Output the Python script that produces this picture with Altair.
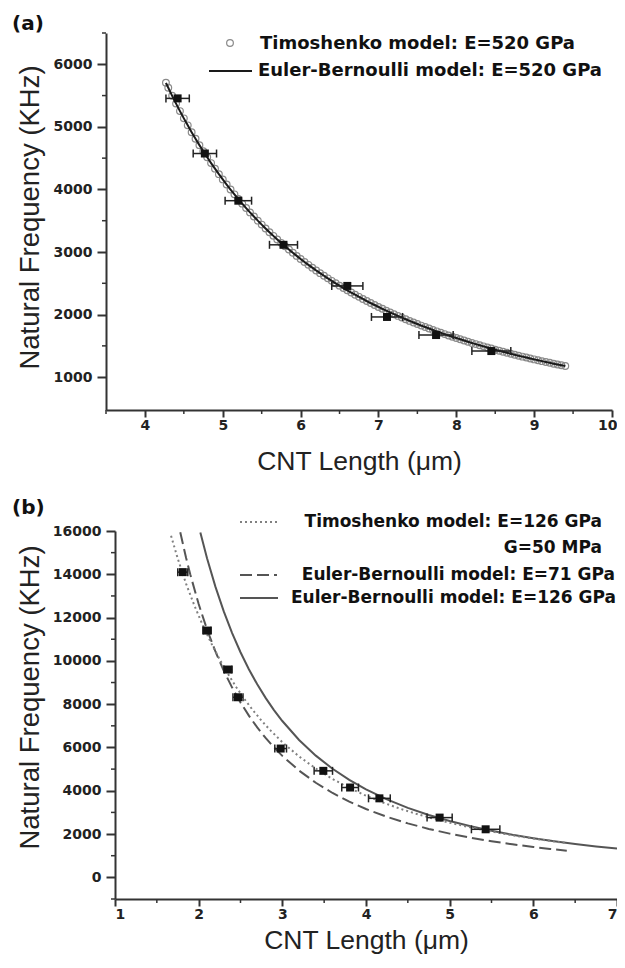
import altair as alt
import pandas as pd

# ---------------- Panel (a) ----------------
a_len = [4.42, 4.77, 5.20, 5.78, 6.60, 7.11, 7.74, 8.45]
a_freq = [5455, 4574, 3820, 3115, 2458, 1962, 1673, 1417]
a_err = [0.15, 0.15, 0.17, 0.18, 0.20, 0.20, 0.22, 0.25]

a_model_len = [4.27, 4.30, 4.35, 4.40, 4.45, 4.50, 4.55, 4.60, 4.65, 4.70, 4.75, 4.80, 4.85,
               4.90, 4.95, 5.00, 5.05, 5.10, 5.15, 5.20, 5.25, 5.30, 5.35, 5.40, 5.45, 5.50,
               5.55, 5.60, 5.65, 5.70, 5.75, 5.80, 5.85, 5.90, 5.95, 6.00, 6.05, 6.10, 6.15,
               6.20, 6.25, 6.30, 6.35, 6.40, 6.45, 6.50, 6.55, 6.60, 6.65, 6.70, 6.75, 6.80,
               6.85, 6.90, 6.95, 7.00, 7.05, 7.10, 7.15, 7.20, 7.25, 7.30, 7.35, 7.40, 7.45,
               7.50, 7.55, 7.60, 7.65, 7.70, 7.75, 7.80, 7.85, 7.90, 7.95, 8.00, 8.05, 8.10,
               8.15, 8.20, 8.25, 8.30, 8.35, 8.40, 8.45, 8.50, 8.55, 8.60, 8.65, 8.70, 8.75,
               8.80, 8.85, 8.90, 8.95, 9.00, 9.05, 9.10, 9.15, 9.20, 9.25, 9.30, 9.35, 9.40]
a_timo_freq = [5704, 5625, 5496, 5372, 5252, 5136, 5024, 4915, 4810, 4708,
               4609, 4514, 4421, 4332, 4244, 4160, 4078, 3998, 3921, 3846,
               3773, 3702, 3633, 3567, 3501, 3438, 3376, 3316, 3258, 3201,
               3146, 3092, 3039, 2988, 2938, 2889, 2841, 2795, 2750, 2705,
               2662, 2620, 2579, 2539, 2500, 2462, 2424, 2388, 2352, 2317,
               2283, 2249, 2216, 2184, 2153, 2122, 2092, 2063, 2034, 2006,
               1979, 1952, 1925, 1899, 1874, 1849, 1824, 1801, 1777, 1754,
               1732, 1709, 1688, 1666, 1646, 1625, 1605, 1585, 1566, 1547,
               1528, 1510, 1492, 1474, 1457, 1439, 1423, 1406, 1390, 1374,
               1358, 1343, 1328, 1313, 1298, 1284, 1270, 1256, 1242, 1229,
               1215, 1202, 1190, 1177]
a_eb_freq = list(a_timo_freq)

a_xticks = [4, 5, 6, 7, 8, 9, 10]
a_xminor = [3.5, 4.5, 5.5, 6.5, 7.5, 8.5, 9.5]
a_yticks = [1000, 2000, 3000, 4000, 5000, 6000]
a_yminor = [1500, 2500, 3500, 4500, 5500, 6500]
a_legend = ["Timoshenko model: E=520 GPa", "Euler-Bernoulli model: E=520 GPa"]

# ---------------- Panel (b) ----------------
b_len = [1.81, 2.10, 2.35, 2.47, 2.98, 3.49, 3.81, 4.16, 4.88, 5.43]
b_freq = [14100, 11400, 9600, 8320, 5950, 4920, 4150, 3650, 2760, 2220]
b_err = [0.06, 0.05, 0.05, 0.06, 0.07, 0.11, 0.10, 0.13, 0.15, 0.17]

b_eb126_len = [2.02, 2.1, 2.2, 2.3, 2.4, 2.5, 2.6, 2.7, 2.8, 2.9, 3.0, 3.2, 3.4, 3.6,
               3.8, 4.0, 4.25, 4.5, 4.75, 5.0, 5.25, 5.5, 5.75, 6.0, 6.25, 6.5, 6.75, 7.0]
b_eb126_freq = [15930, 14739, 13430, 12287, 11285, 10400, 9615, 8916, 8291, 7729, 7222,
                6348, 5623, 5015, 4501, 4063, 3599, 3210, 2881, 2600, 2358, 2149, 1966,
                1806, 1664, 1538, 1427, 1327]

b_eb71_len = [1.78, 1.85, 1.9, 2.0, 2.1, 2.2, 2.3, 2.4, 2.5, 2.6, 2.7, 2.8, 2.9, 3.0,
              3.2, 3.4, 3.6, 3.8, 4.0, 4.25, 4.5, 4.75, 5.0, 5.25, 5.5, 5.75, 6.0, 6.2, 6.4]
b_eb71_freq = [15938, 14755, 13989, 12625, 11451, 10434, 9546, 8767, 8080, 7470, 6927,
               6441, 6005, 5611, 4932, 4369, 3897, 3497, 3156, 2796, 2494, 2238, 2020,
               1832, 1669, 1527, 1403, 1314, 1233]

b_timo_len = [1.67, 1.75, 1.85, 1.95, 2.05, 2.15, 2.25, 2.35, 2.45, 2.55, 2.65, 2.75,
              2.85, 3.0, 3.2, 3.4, 3.6, 3.8, 4.0, 4.2, 4.4, 4.6, 4.8, 5.0, 5.2, 5.4,
              5.6, 5.8, 6.0, 6.2, 6.4]
b_timo_freq = [15777, 14727, 13557, 12544, 11636, 10817, 10074, 9398, 8780, 8220, 7711,
               7246, 6821, 6244, 5586, 5026, 4545, 4131, 3772, 3458, 3182, 2937, 2719,
               2524, 2348, 2190, 2046, 1914, 1794, 1684, 1583]

b_xticks = [1, 2, 3, 4, 5, 6, 7]
b_xminor = [1.5, 2.5, 3.5, 4.5, 5.5, 6.5]
b_yticks = [0, 2000, 4000, 6000, 8000, 10000, 12000, 14000, 16000]
b_yminor = [-1000, 1000, 3000, 5000, 7000, 9000, 11000, 13000, 15000]
b_legend = ["Timoshenko model: E=126 GPa", "G=50 MPa",
            "Euler-Bernoulli model: E=71 GPa", "Euler-Bernoulli model: E=126 GPa"]

x_title = "CNT Length (\u03bcm)"
y_title = "Natural Frequency (KHz)"

BOLD = "DejaVu Sans"
REG = "Liberation Sans"
AX = "#333333"
one = pd.DataFrame({"k": [0]})

# One drawing area; each panel gets its own pixel band through its scale ranges.
W, H = 502, 866
SH = 9                       # panel (a) axis sits 9 px left of panel (b)
A_TOP, A_BOT = 0, 377        # panel (a) vertical band
B_TOP, B_BOT = 498, 866      # panel (b) vertical band


def major_x(values, tpad, offset, flush_off):
    return alt.Axis(values=values, orient="bottom", offset=offset, title=x_title,
                    grid=False, format="d",
                    domainColor=AX, domainWidth=2, tickColor=AX, tickWidth=2, tickSize=7,
                    labelFont=BOLD, labelFontWeight="bold", labelFontSize=14,
                    labelColor="#222222", labelPadding=1, labelFlush=True,
                    labelFlushOffset=flush_off, labelOverlap=False,
                    titleFont=REG, titleFontSize=26.5, titleFontWeight="normal",
                    titleColor="#222222", titlePadding=tpad)


def major_y(values, tx, ty, off):
    return alt.Axis(values=values, orient="left", offset=off, title=y_title, grid=False,
                    format="d",
                    domainColor=AX, domainWidth=2, tickColor=AX, tickWidth=2, tickSize=9,
                    labelFont=BOLD, labelFontWeight="bold", labelFontSize=14,
                    labelColor="#222222", labelPadding=5, labelFlush=False,
                    labelOverlap=False, titleFont=REG, titleFontSize=27.5,
                    titleFontWeight="normal", titleColor="#222222",
                    titleX=tx, titleY=ty, titleAngle=270, titleBaseline="bottom",
                    titleAlign="center")


def minor_ticks(xvals, yvals, xs, ys, ybase, x0):
    mx = alt.Chart(pd.DataFrame({"v": xvals})).mark_rule(color=AX, strokeWidth=1.5).encode(
        x=alt.X("v:Q", scale=xs, axis=None), y=alt.value(ybase), y2=alt.value(ybase + 4))
    my = alt.Chart(pd.DataFrame({"v": yvals})).mark_rule(color=AX, strokeWidth=1.5).encode(
        y=alt.Y("v:Q", scale=ys, axis=None), x=alt.value(x0), x2=alt.value(x0 - 4))
    return [mx, my]


def text_layer(label, x, y, align="right", size=18, baseline="middle"):
    return alt.Chart(one).mark_text(text=label, align=align, baseline=baseline,
                                    font=BOLD, fontWeight="bold", fontSize=size,
                                    color="#111111").encode(x=alt.value(x), y=alt.value(y))


def rule_layer(x1, x2, y, color, dash=None):
    kw = dict(color=color, strokeWidth=2)
    if dash:
        kw["strokeDash"] = dash
    return alt.Chart(one).mark_rule(**kw).encode(
        x=alt.value(x1), x2=alt.value(x2), y=alt.value(y))


def data_layers(df, xs, ys):
    base = alt.Chart(df).transform_calculate(
        lo="datum.len - datum.err", hi="datum.len + datum.err")
    bars = base.mark_rule(color="#222222", strokeWidth=1.5).encode(
        x=alt.X("lo:Q", scale=xs, axis=None), x2="hi:Q",
        y=alt.Y("freq:Q", scale=ys, axis=None))
    caps = [base.mark_tick(orient="vertical", size=8, thickness=1.5, color="#222222",
                           opacity=1).encode(
        x=alt.X(f + ":Q", scale=xs, axis=None), y=alt.Y("freq:Q", scale=ys, axis=None))
        for f in ("lo", "hi")]
    sq = base.mark_square(size=64, color="#111111", opacity=1).encode(
        x=alt.X("len:Q", scale=xs, axis=None), y=alt.Y("freq:Q", scale=ys, axis=None))
    return [bars] + caps + [sq]


# ---- panel (a) ----
xa = alt.Scale(domain=[3.5, 10], nice=False, zero=False, range=[-SH, W - 5])
ya = alt.Scale(domain=[475, 6500], nice=False, zero=False, range=[A_BOT, A_TOP])
df_a = pd.DataFrame({"len": a_len, "freq": a_freq, "err": a_err})
df_am = pd.DataFrame({"len": a_model_len, "timo": a_timo_freq, "eb": a_eb_freq})

a_circles = alt.Chart(df_am).mark_point(shape="circle", filled=False, size=45,
                                        stroke="#8a8a8a", strokeWidth=1.2, opacity=1).encode(
    x=alt.X("len:Q", scale=xa, axis=major_x(a_xticks, 16, A_BOT - H, 5)),
    y=alt.Y("timo:Q", scale=ya, axis=major_y(a_yticks, -61.5, 184, SH)))
a_line = alt.Chart(df_am).mark_line(color="#1a1a1a", strokeWidth=2).encode(
    x=alt.X("len:Q", scale=xa, axis=None), y=alt.Y("eb:Q", scale=ya, axis=None))

a_leg = [
    alt.Chart(one).mark_point(shape="circle", filled=False, size=45, stroke="#8a8a8a",
                              strokeWidth=1.2, opacity=1).encode(
        x=alt.value(115), y=alt.value(10)),
    text_layer(a_legend[0], 460, 11),
    rule_layer(94, 137, 38, "#1a1a1a"),
    text_layer(a_legend[1], 487, 38),
    text_layer("(a)", -103, -19, align="left", size=20, baseline="top"),
]

# ---- panel (b) ----
xb = alt.Scale(domain=[1, 7], nice=False, zero=False, range=[0, W])
yb = alt.Scale(domain=[-1000, 16000], nice=False, zero=False, range=[B_BOT, B_TOP])
df_b = pd.DataFrame({"len": b_len, "freq": b_freq, "err": b_err})
df_b126 = pd.DataFrame({"len": b_eb126_len, "freq": b_eb126_freq})
df_b71 = pd.DataFrame({"len": b_eb71_len, "freq": b_eb71_freq})
df_bt = pd.DataFrame({"len": b_timo_len, "freq": b_timo_freq})

b_solid = alt.Chart(df_b126).mark_line(color="#555555", strokeWidth=2).encode(
    x=alt.X("len:Q", scale=xb, axis=major_x(b_xticks, 6, B_BOT - H, 0)),
    y=alt.Y("freq:Q", scale=yb, axis=major_y(b_yticks, -70.5, 664, 0)))
b_dash = alt.Chart(df_b71).mark_line(color="#555555", strokeWidth=2,
                                     strokeDash=[12, 5]).encode(
    x=alt.X("len:Q", scale=xb, axis=None), y=alt.Y("freq:Q", scale=yb, axis=None))
b_dot = alt.Chart(df_bt).mark_line(color="#808080", strokeWidth=2,
                                   strokeDash=[2, 3]).encode(
    x=alt.X("len:Q", scale=xb, axis=None), y=alt.Y("freq:Q", scale=yb, axis=None))

b_leg = [
    rule_layer(125, 165, B_TOP - 9, "#808080", [2, 3]),
    text_layer(b_legend[0], 487, B_TOP - 9, size=17),
    text_layer(b_legend[1], 487, B_TOP + 17, size=17),
    rule_layer(125, 162, B_TOP + 44, "#555555", [12, 5]),
    text_layer(b_legend[2], 500, B_TOP + 44, size=17),
    rule_layer(125, 163, B_TOP + 67, "#555555"),
    text_layer(b_legend[3], 501, B_TOP + 67, size=17),
    text_layer("(b)", -103, B_TOP - 33, align="left", size=20, baseline="top"),
]

chart = alt.layer(
    a_circles, a_line, *minor_ticks(a_xminor, a_yminor, xa, ya, A_BOT, -SH),
    *data_layers(df_a, xa, ya), *a_leg,
    b_solid, b_dash, b_dot, *minor_ticks(b_xminor, b_yminor, xb, yb, B_BOT, 0),
    *data_layers(df_b, xb, yb), *b_leg,
).resolve_scale(x="independent", y="independent").resolve_axis(
    x="independent", y="independent"
).properties(
    width=W, height=H,
    autosize=alt.AutoSizeParams(type="none"),
    padding={"left": 107, "top": 25, "right": 0, "bottom": 59},
).configure_view(strokeWidth=0)

chart.save("out.html", embed_options={"renderer": "svg", "actions": False})
